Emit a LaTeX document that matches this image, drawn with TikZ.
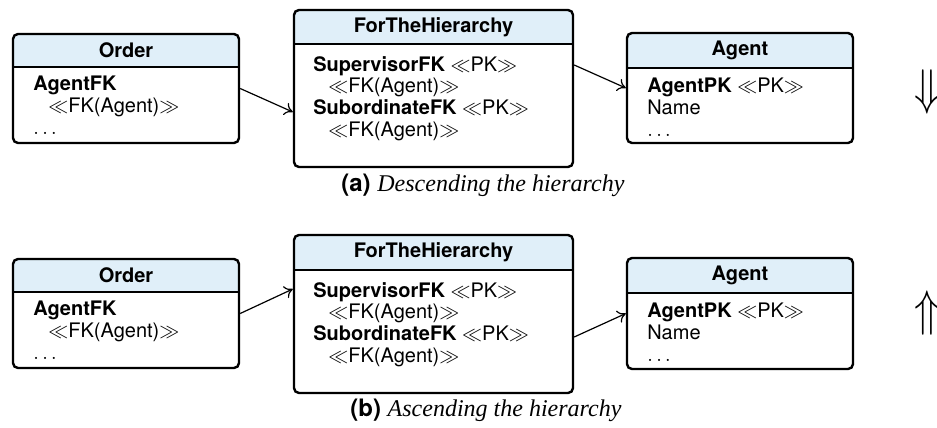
\documentclass[tikz,border=0pt]{standalone}
\usepackage{fontspec}
\setmainfont{Liberation Serif}
\setsansfont{TeX Gyre Heros}
\usepackage{graphicx}
\usepackage{amsmath}
\usepackage{amssymb}
\usepackage{tikz}
\usetikzlibrary{arrows.meta}

\definecolor{headblue}{RGB}{224,239,249}

\begin{document}
\begin{tikzpicture}[x=0.5pt, y=-0.5pt,
  tbl/.style={draw, line width=1.2pt, rounded corners=2.5pt, inner sep=0pt},
  sep/.style={line width=1.2pt},
  title/.style={font=\sffamily\bfseries\fontsize{10}{12}\selectfont, inner sep=0pt},
  attr/.style={font=\sffamily\fontsize{10}{10.8}\selectfont, align=left, anchor=north west, inner sep=0pt},
  link/.style={-{To[length=4pt, width=6.5pt]}, line width=0.6pt},
  subcap/.style={anchor=base west, inner sep=0pt},
  dir/.style={inner sep=0pt}]

\useasboundingbox (0,0) rectangle (937,428);

% (a) descending
\begin{scope}
\clip[rounded corners=2.5pt] (13,34) rectangle (239,143);
\fill[headblue] (13,34) rectangle (239,67);
\end{scope}
\node[tbl, minimum width=113pt, minimum height=54.5pt] (orderA) at (126,88.5) {};
\draw[sep] (13,67) -- (239,67);
\node[title] (orderAtitle) at (126,50.5) {Order};
\node[attr] (orderAattr) at (33,76) {\textbf{AgentFK}\\ \hspace*{0.75em}$\ll$FK(Agent)$\gg$\\ $\ldots$};

\begin{scope}
\clip[rounded corners=2.5pt] (294,10) rectangle (573,167);
\fill[headblue] (294,10) rectangle (573,44);
\end{scope}
\node[tbl, minimum width=139.5pt, minimum height=78.5pt] (fthA) at (433.5,88.5) {};
\draw[sep] (294,44) -- (573,44);
\node[title] (fthAtitle) at (433.5,27) {ForTheHierarchy};
\node[attr] (fthAattr) at (313,56) {\textbf{SupervisorFK} $\ll$PK$\gg$\\ \hspace*{0.75em}$\ll$FK(Agent)$\gg$\\
  \textbf{SubordinateFK} $\ll$PK$\gg$\\ \hspace*{0.75em}$\ll$FK(Agent)$\gg$};

\begin{scope}
\clip[rounded corners=2.5pt] (627,33) rectangle (853,143);
\fill[headblue] (627,33) rectangle (853,68);
\end{scope}
\node[tbl, minimum width=113pt, minimum height=55pt] (agentA) at (740,88) {};
\draw[sep] (627,68) -- (853,68);
\node[title] (agentAtitle) at (740,50.5) {Agent};
\node[attr] (agentAattr) at (647,78) {\textbf{AgentPK} $\ll$PK$\gg$\\ Name\\ $\ldots$};

\draw[link] (orderA.east) -- ([yshift=-11.75pt]fthA.west);
\draw[link] ([yshift=11.75pt]fthA.east) -- (agentA.west);

\node[dir] (downA) at (927,92) {\scalebox{2.1}[2.5]{$\Downarrow$}};
\node[subcap] (capA) at (341,191) {\sffamily\bfseries\fontsize{12}{14}\selectfont (a) \normalfont\itshape\fontsize{12}{14}\selectfont Descending the hierarchy};

% (b) ascending
\begin{scope}
\clip[rounded corners=2.5pt] (13,259) rectangle (239,368);
\fill[headblue] (13,259) rectangle (239,292);
\end{scope}
\node[tbl, minimum width=113pt, minimum height=54.5pt] (orderB) at (126,313.5) {};
\draw[sep] (13,292) -- (239,292);
\node[title] (orderBtitle) at (126,275.5) {Order};
\node[attr] (orderBattr) at (33,301) {\textbf{AgentFK}\\ \hspace*{0.75em}$\ll$FK(Agent)$\gg$\\ $\ldots$};

\begin{scope}
\clip[rounded corners=2.5pt] (294,235) rectangle (573,393);
\fill[headblue] (294,235) rectangle (573,270);
\end{scope}
\node[tbl, minimum width=139.5pt, minimum height=79pt] (fthB) at (433.5,314) {};
\draw[sep] (294,270) -- (573,270);
\node[title] (fthBtitle) at (433.5,252.5) {ForTheHierarchy};
\node[attr] (fthBattr) at (313,282) {\textbf{SupervisorFK} $\ll$PK$\gg$\\ \hspace*{0.75em}$\ll$FK(Agent)$\gg$\\
  \textbf{SubordinateFK} $\ll$PK$\gg$\\ \hspace*{0.75em}$\ll$FK(Agent)$\gg$};

\begin{scope}
\clip[rounded corners=2.5pt] (627,258) rectangle (853,369);
\fill[headblue] (627,258) rectangle (853,293);
\end{scope}
\node[tbl, minimum width=113pt, minimum height=55.5pt] (agentB) at (740,313.5) {};
\draw[sep] (627,293) -- (853,293);
\node[title] (agentBtitle) at (740,275.5) {Agent};
\node[attr] (agentBattr) at (647,303) {\textbf{AgentPK} $\ll$PK$\gg$\\ Name\\ $\ldots$};

\draw[link] (orderB.east) -- ([yshift=12.5pt]fthB.west);
\draw[link] ([yshift=-11.5pt]fthB.east) -- (agentB.west);

\node[dir] (upB) at (927,313) {\scalebox{2.1}[2.5]{$\Uparrow$}};
\node[subcap] (capB) at (350,416) {\sffamily\bfseries\fontsize{12}{14}\selectfont (b) \normalfont\itshape\fontsize{12}{14}\selectfont Ascending the hierarchy};

\end{tikzpicture}
\end{document}
